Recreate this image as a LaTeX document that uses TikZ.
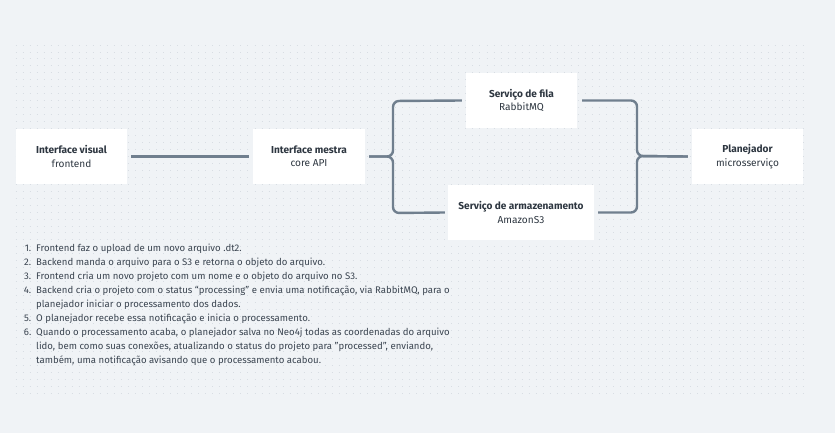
\documentclass[tikz,border=0pt]{standalone}
\usepackage{fontspec}
\setmainfont{Fira Sans}
\begin{document}
\begin{tikzpicture}[x=1pt,y=-1pt,
  box/.style={fill=white,draw=none,minimum width=111pt,minimum height=55pt,inner sep=0pt,align=center,text=titlec,font=\fontsize{10.1}{13.3}\selectfont},
  conn/.style={draw=linec,line width=2.4pt,rounded corners=6pt},
  listtxt/.style={anchor=base west,inner sep=0pt,text=listc,font=\fontsize{9.6}{14}\selectfont},
  listnum/.style={anchor=base east,inner sep=0pt,text=listc,font=\fontsize{9.6}{14}\selectfont}]
\definecolor{bgc}{RGB}{240,243,246}
\definecolor{dotc}{RGB}{216,221,227}
\definecolor{linec}{RGB}{112,127,142}
\definecolor{titlec}{RGB}{45,54,64}
\definecolor{listc}{RGB}{58,68,80}
\fill[bgc] (0,0) rectangle (835,433);
\useasboundingbox (0,0) rectangle (835,433);
% dot grid
\foreach \i in {0,...,50} {
  \draw[dotc,line width=0.85pt,dash pattern=on 0.85pt off 6.18pt] (15.5,{45+6.96*\i}) -- (804,{45+6.96*\i});
}
% boxes
\node[box] (vis) at (71.5,156.5) {\textbf{Interface visual}\\frontend};
\node[box,minimum width=112pt] (mes) at (309,156.5) {\textbf{Interface mestra}\\core API};
\node[box] (fila) at (521.5,100.5) {\textbf{Serviço de fila}\\RabbitMQ};
\node[box,minimum width=146pt] (arm) at (521,212.5) {\textbf{Serviço de armazenamento}\\AmazonS3};
\node[box] (plan) at (747.5,156.5) {\textbf{Planejador}\\microsserviço};
% connectors
\coordinate (lt) at (393,101);
\coordinate (lb) at (393,213);
\coordinate (rj) at (637,156);
\draw[conn] ([xshift=4pt]vis.east) -- ([xshift=-4pt]mes.west);
\draw[conn] ([xshift=4pt]mes.east) -| (lt) -- ([xshift=-4pt]fila.west);
\draw[conn] ([xshift=4pt]mes.east) -| (lb) -- ([xshift=-3pt]arm.west);
\draw[conn] ([xshift=5pt]fila.east) -| (rj) -- ([xshift=-4pt]plan.west);
\draw[conn] ([xshift=4pt]arm.east) -| (rj) -- ([xshift=-4pt]plan.west);
% list
\node[listnum] (n1) at (31.5,251) {1.};
\node[listtxt] (t1) at (36,251) {Frontend faz o upload de um novo arquivo .dt2.};
\node[listnum] (n2) at (31.5,265) {2.};
\node[listtxt] (t2) at (36,265) {Backend manda o arquivo para o S3 e retorna o objeto do arquivo.};
\node[listnum] (n3) at (31.5,279) {3.};
\node[listtxt] (t3) at (36,279) {Frontend cria um novo projeto com um nome e o objeto do arquivo no S3.};
\node[listnum] (n4) at (31.5,293) {4.};
\node[listtxt] (t4) at (36,293) {Backend cria o projeto com o status “processing” e envia uma notificação, via RabbitMQ, para o};
\node[listtxt] (t4b) at (36,307) {planejador iniciar o processamento dos dados.};
\node[listnum] (n5) at (31.5,321) {5.};
\node[listtxt] (t5) at (36,321) {O planejador recebe essa notificação e inicia o processamento.};
\node[listnum] (n6) at (31.5,335) {6.};
\node[listtxt] (t6) at (36,335) {Quando o processamento acaba, o planejador salva no Neo4j todas as coordenadas do arquivo};
\node[listtxt] (t6b) at (36,349) {lido, bem como suas conexões, atualizando o status do projeto para "processed", enviando,};
\node[listtxt] (t6c) at (36,363) {também, uma notificação avisando que o processamento acabou.};
\end{tikzpicture}
\end{document}
